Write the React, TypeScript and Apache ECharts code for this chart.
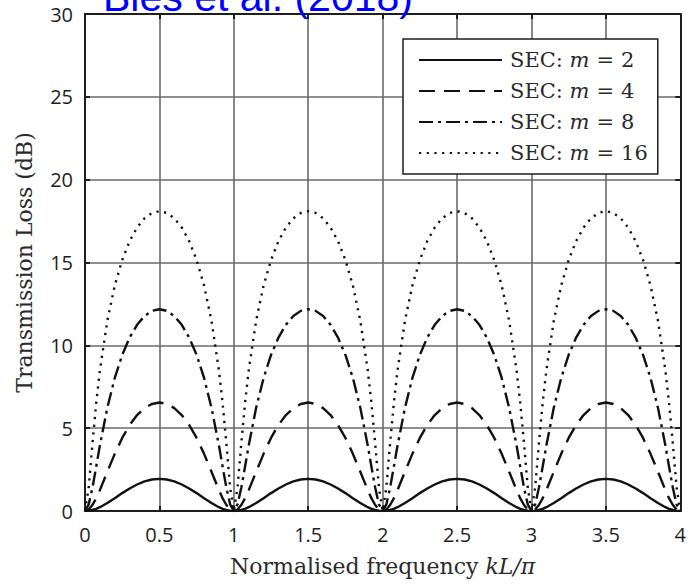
import React, { useEffect, useRef } from "react";
import * as echarts from "echarts";

// Normalised frequency kL/pi (x positions of the sampled points)
const freq = [
  0, 0.025, 0.05, 0.075, 0.1, 0.15, 0.2, 0.25, 0.3, 0.35, 0.4, 0.45, 0.5, 0.55, 0.6, 0.65, 0.7, 0.75, 0.8, 0.85, 0.9, 0.925, 0.95, 0.975,
  1, 1.025, 1.05, 1.075, 1.1, 1.15, 1.2, 1.25, 1.3, 1.35, 1.4, 1.45, 1.5, 1.55, 1.6, 1.65, 1.7, 1.75, 1.8, 1.85, 1.9, 1.925, 1.95, 1.975,
  2, 2.025, 2.05, 2.075, 2.1, 2.15, 2.2, 2.25, 2.3, 2.35, 2.4, 2.45, 2.5, 2.55, 2.6, 2.65, 2.7, 2.75, 2.8, 2.85, 2.9, 2.925, 2.95, 2.975,
  3, 3.025, 3.05, 3.075, 3.1, 3.15, 3.2, 3.25, 3.3, 3.35, 3.4, 3.45, 3.5, 3.55, 3.6, 3.65, 3.7, 3.75, 3.8, 3.85, 3.9, 3.925, 3.95, 3.975,
  4,
];

// Transmission loss (dB), SEC: m = 2
const tlM2 = [
  0, 0.02, 0.06, 0.13, 0.23, 0.48, 0.77, 1.08, 1.36, 1.6, 1.79, 1.9, 1.94, 1.9, 1.79, 1.6, 1.36, 1.08, 0.77, 0.48, 0.23, 0.13, 0.06, 0.02,
  0, 0.02, 0.06, 0.13, 0.23, 0.48, 0.77, 1.08, 1.36, 1.6, 1.79, 1.9, 1.94, 1.9, 1.79, 1.6, 1.36, 1.08, 0.77, 0.48, 0.23, 0.13, 0.06, 0.02,
  0, 0.02, 0.06, 0.13, 0.23, 0.48, 0.77, 1.08, 1.36, 1.6, 1.79, 1.9, 1.94, 1.9, 1.79, 1.6, 1.36, 1.08, 0.77, 0.48, 0.23, 0.13, 0.06, 0.02,
  0, 0.02, 0.06, 0.13, 0.23, 0.48, 0.77, 1.08, 1.36, 1.6, 1.79, 1.9, 1.94, 1.9, 1.79, 1.6, 1.36, 1.08, 0.77, 0.48, 0.23, 0.13, 0.06, 0.02,
  0,
];

// SEC: m = 4
const tlM4 = [
  0, 0.09, 0.36, 0.76, 1.26, 2.37, 3.45, 4.41, 5.19, 5.79, 6.21, 6.46, 6.55, 6.46, 6.21, 5.79, 5.19, 4.41, 3.45, 2.37, 1.26, 0.76, 0.36, 0.09,
  0, 0.09, 0.36, 0.76, 1.26, 2.37, 3.45, 4.41, 5.19, 5.79, 6.21, 6.46, 6.55, 6.46, 6.21, 5.79, 5.19, 4.41, 3.45, 2.37, 1.26, 0.76, 0.36, 0.09,
  0, 0.09, 0.36, 0.76, 1.26, 2.37, 3.45, 4.41, 5.19, 5.79, 6.21, 6.46, 6.55, 6.46, 6.21, 5.79, 5.19, 4.41, 3.45, 2.37, 1.26, 0.76, 0.36, 0.09,
  0, 0.09, 0.36, 0.76, 1.26, 2.37, 3.45, 4.41, 5.19, 5.79, 6.21, 6.46, 6.55, 6.46, 6.21, 5.79, 5.19, 4.41, 3.45, 2.37, 1.26, 0.76, 0.36, 0.09,
  0,
];

// SEC: m = 8
const tlM8 = [
  0, 0.4, 1.4, 2.66, 3.95, 6.23, 8.03, 9.42, 10.47, 11.24, 11.77, 12.08, 12.18, 12.08, 11.77, 11.24, 10.47, 9.42, 8.03, 6.23, 3.95, 2.66, 1.4, 0.4,
  0, 0.4, 1.4, 2.66, 3.95, 6.23, 8.03, 9.42, 10.47, 11.24, 11.77, 12.08, 12.18, 12.08, 11.77, 11.24, 10.47, 9.42, 8.03, 6.23, 3.95, 2.66, 1.4, 0.4,
  0, 0.4, 1.4, 2.66, 3.95, 6.23, 8.03, 9.42, 10.47, 11.24, 11.77, 12.08, 12.18, 12.08, 11.77, 11.24, 10.47, 9.42, 8.03, 6.23, 3.95, 2.66, 1.4, 0.4,
  0, 0.4, 1.4, 2.66, 3.95, 6.23, 8.03, 9.42, 10.47, 11.24, 11.77, 12.08, 12.18, 12.08, 11.77, 11.24, 10.47, 9.42, 8.03, 6.23, 3.95, 2.66, 1.4, 0.4,
  0,
];

// SEC: m = 16
const tlM16 = [
  0, 1.43, 4.07, 6.49, 8.49, 11.49, 13.61, 15.15, 16.29, 17.11, 17.67, 17.99, 18.1, 17.99, 17.67, 17.11, 16.29, 15.15, 13.61, 11.49, 8.49, 6.49, 4.07, 1.43,
  0, 1.43, 4.07, 6.49, 8.49, 11.49, 13.61, 15.15, 16.29, 17.11, 17.67, 17.99, 18.1, 17.99, 17.67, 17.11, 16.29, 15.15, 13.61, 11.49, 8.49, 6.49, 4.07, 1.43,
  0, 1.43, 4.07, 6.49, 8.49, 11.49, 13.61, 15.15, 16.29, 17.11, 17.67, 17.99, 18.1, 17.99, 17.67, 17.11, 16.29, 15.15, 13.61, 11.49, 8.49, 6.49, 4.07, 1.43,
  0, 1.43, 4.07, 6.49, 8.49, 11.49, 13.61, 15.15, 16.29, 17.11, 17.67, 17.99, 18.1, 17.99, 17.67, 17.11, 16.29, 15.15, 13.61, 11.49, 8.49, 6.49, 4.07, 1.43,
  0,
];

const seriesNames = ["SEC: m = 2", "SEC: m = 4", "SEC: m = 8", "SEC: m = 16"];
const seriesValues = [tlM2, tlM4, tlM8, tlM16];
const dashStyles: any[] = ["solid", [16, 9], [14, 5, 3, 5], [2.2, 5.5]];

const titleText = "Bies et al. (2018)";
const xTitle = "Normalised frequency ";
const xTitleMath = "kL/π";
const yTitle = "Transmission Loss (dB)";

const SERIF = '"DejaVu Serif", serif';
const SANS = '"Open Sans", sans-serif';
const INK = "#1e1e1e";
const TXT = "#2a2a2a";

export default function App() {
  const ref = useRef<HTMLDivElement>(null);

  useEffect(() => {
    if (!ref.current) return;
    const chart = echarts.init(ref.current, null, { renderer: "svg" });

    const series = seriesNames.map((name, i) => ({
      name,
      type: "line",
      xAxisIndex: 0,
      yAxisIndex: 0,
      symbol: "none",
      showSymbol: false,
      smooth: false,
      z: 3,
      data: freq.map((x, k) => [x, seriesValues[i][k]]),
      lineStyle: { color: "#111", width: 2.4, type: dashStyles[i], cap: "butt" },
      itemStyle: { color: "#111" },
      emphasis: { disabled: true },
    }));

    const frameAxisLine = { show: true, onZero: false, lineStyle: { color: INK, width: 2 } };
    const frameTick = { show: true, inside: true, length: 5, lineStyle: { color: INK, width: 2 } };
    const grayGrid = { show: true, lineStyle: { color: "#6a6a6a", width: 1.6 } };

    const option: any = {
      animation: false,
      backgroundColor: "#ffffff",
      grid: { left: 85, right: 4, top: 14, bottom: 73, show: false },
      xAxis: [
        {
          type: "value",
          min: 0,
          max: 4,
          interval: 0.5,
          axisLine: frameAxisLine,
          axisTick: frameTick,
          splitLine: grayGrid,
          axisLabel: { color: INK, fontFamily: SANS, fontSize: 20, margin: 13 },
          name: `{a|${xTitle}}{i|${xTitleMath}}`,
          nameLocation: "middle",
          nameGap: 44,
          nameTextStyle: {
            rich: {
              a: { fontFamily: SERIF, fontSize: 22, color: TXT },
              i: { fontFamily: SERIF, fontSize: 22, fontStyle: "italic", color: TXT },
            },
          },
        },
        {
          type: "value",
          position: "top",
          min: 0,
          max: 4,
          interval: 0.5,
          axisLine: frameAxisLine,
          axisTick: frameTick,
          splitLine: { show: false },
          axisLabel: { show: false },
        },
      ],
      yAxis: [
        {
          type: "value",
          min: 0,
          max: 30,
          interval: 5,
          axisLine: frameAxisLine,
          axisTick: frameTick,
          splitLine: grayGrid,
          axisLabel: { color: INK, fontFamily: SANS, fontSize: 20, margin: 12 },
          name: yTitle,
          nameLocation: "middle",
          nameGap: 50,
          nameTextStyle: { fontFamily: SERIF, fontSize: 22, color: TXT },
        },
        {
          type: "value",
          position: "right",
          min: 0,
          max: 30,
          interval: 5,
          axisLine: frameAxisLine,
          axisTick: frameTick,
          splitLine: { show: false },
          axisLabel: { show: false },
        },
      ],
      legend: {
        data: seriesNames,
        orient: "vertical",
        left: 403,
        top: 39,
        itemWidth: 83,
        itemHeight: 14,
        itemGap: 9,
        padding: [10, 10, 10, 15],
        backgroundColor: "#ffffff",
        borderColor: INK,
        borderWidth: 1.5,
        borderRadius: 0,
        selectedMode: false,
        itemStyle: { color: "transparent", borderWidth: 0, opacity: 0 },
        formatter: (n: string) => `{a|SEC: }{i|m}{e|=}{a|${n.split("= ")[1]}}`,
        textStyle: {
          lineHeight: 22,
          padding: [0, 0, 0, 3],
          rich: {
            a: { fontFamily: SERIF, fontSize: 21, color: TXT, lineHeight: 22 },
            e: { fontFamily: SERIF, fontSize: 21, color: TXT, lineHeight: 22, padding: [0, 7, 0, 7] },
            i: { fontFamily: SERIF, fontSize: 21, fontStyle: "italic", color: TXT, lineHeight: 22 },
          },
        },
      },
      graphic: [
        {
          type: "text",
          x: 103,
          y: -3,
          z: 10,
          style: {
            text: titleText,
            fill: "#0000ff",
            fontFamily: '"Liberation Sans", Arial, sans-serif',
            fontSize: 41,
            verticalAlign: "middle",
          },
        },
      ],
      series,
    };

    chart.setOption(option);
    return () => chart.dispose();
  }, []);

  return <div ref={ref} style={{ width: 689, height: 584, position: "fixed", left: 0, top: 0 }} />;
}
